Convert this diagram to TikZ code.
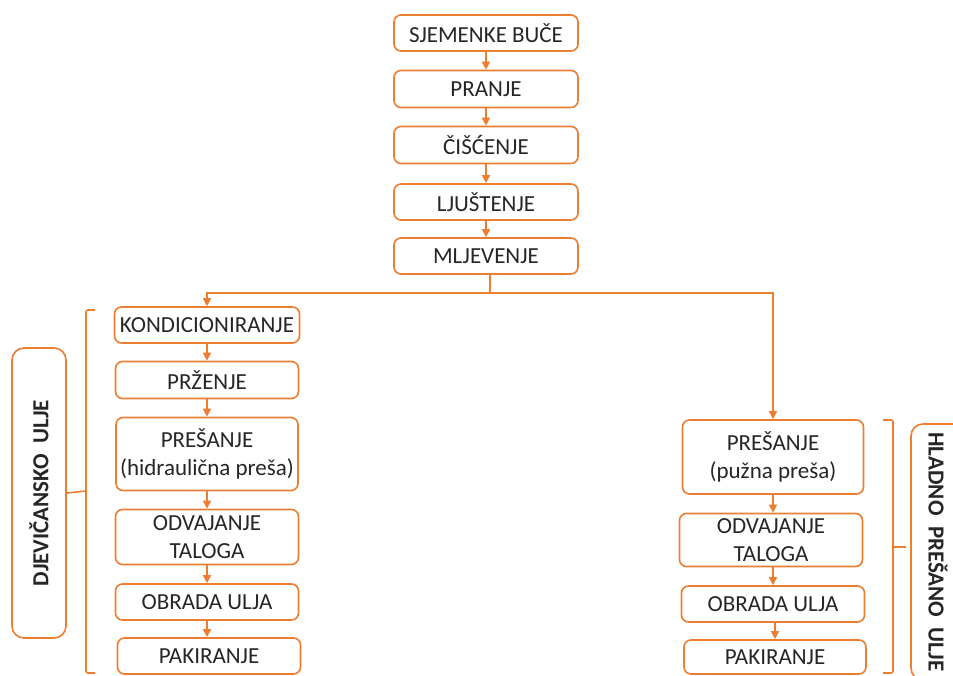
\documentclass[tikz,border=0pt]{standalone}
\usepackage{fontspec}
\setmainfont{Carlito}
\usetikzlibrary{arrows.meta}
\definecolor{narancasta}{HTML}{ED7D31}

\begin{document}
\begin{tikzpicture}[x=1pt,y=-1pt,
	korak/.style={draw=narancasta,line width=1.6pt,rounded corners=7pt,fill=white,align=center,text=black!85,font=\fontsize{23}{28}\selectfont,inner sep=0pt,minimum width=184pt,minimum height=36pt},
	oznaka/.style={draw=narancasta,line width=1.6pt,rounded corners=12pt,text=black!85,font=\fontsize{23}{28}\selectfont\bfseries,inner sep=0pt,minimum height=54pt},
	tok/.style={draw=narancasta,line width=1.6pt,-{Triangle[length=8pt,width=8pt]}},
	zagrada/.style={draw=narancasta,line width=1.6pt,rounded corners=2pt}]
	\useasboundingbox (0,0) rectangle (953,675);
	\clip (0,0) rectangle (953,675);
	% glavni niz
	\node[korak] (buce) at (486,33) {SJEMENKE BUČE};
	\node[korak,minimum height=37pt] (pranje) at (486,89) {PRANJE};
	\node[korak,minimum height=37pt] (ciscenje) at (486,145) {ČIŠĆENJE};
	\node[korak] (ljustenje) at (486,202) {LJUŠTENJE};
	\node[korak] (mljevenje) at (486,256) {MLJEVENJE};
	% djevicansko ulje
	\node[korak,minimum width=185pt] (kond) at (207,325) {KONDICIONIRANJE};
	\node[korak,minimum width=183pt,minimum height=37pt] (przenje) at (207,380) {PRŽENJE};
	\node[korak,minimum width=182pt,minimum height=73pt] (hpresa) at (207,454) {PREŠANJE\\(hidraulična preša)};
	\node[korak,minimum width=183pt,minimum height=55pt] (ltalog) at (207,537) {ODVAJANJE\\TALOGA};
	\node[korak,minimum width=183pt] (lobrada) at (207,602) {OBRADA ULJA};
	\node[korak,minimum width=183pt] (lpak) at (209,656) {PAKIRANJE};
	% hladno presano ulje
	\node[korak,minimum width=181pt,minimum height=74pt] (ppresa) at (773,457) {PREŠANJE\\(pužna preša)};
	\node[korak,minimum width=183pt,minimum height=53pt] (dtalog) at (771,540) {ODVAJANJE\\TALOGA};
	\node[korak,minimum width=183pt] (dobrada) at (773,604) {OBRADA ULJA};
	\node[korak,minimum width=182pt,minimum height=34pt] (dpak) at (775,657) {PAKIRANJE};
	% oznake
	\node[oznaka,rotate=90,minimum width=290pt] (djev) at (39,493) {DJEVIČANSKO\ \ ULJE};
	\node[oznaka,rotate=-90,minimum width=256pt] (hladno) at (938,552) {HLADNO\ \ PREŠANO\ \ ULJE};
	% strelice
	\draw[tok] (buce) -- (pranje);
	\draw[tok] (pranje) -- (ciscenje);
	\draw[tok] (ciscenje) -- (ljustenje);
	\draw[tok] (ljustenje) -- (mljevenje);
	\draw[draw=narancasta,line width=1.6pt] (mljevenje.south) ++(4,0) -- ++(0,18) coordinate (grana);
	\draw[tok] (grana) -| (kond.north -| przenje);
	\draw[tok] (grana) -| (ppresa.north);
	\draw[tok] (kond.south -| przenje) -- (przenje);
	\draw[tok] (przenje) -- (hpresa);
	\draw[tok] (hpresa) -- (ltalog);
	\draw[tok] (ltalog) -- (lobrada);
	\draw[tok] (lobrada.south) -- (lobrada.south |- lpak.north);
	\draw[tok] (ppresa) -- (ppresa.south |- dtalog.north);
	\draw[tok] (dtalog.south -| dobrada) -- (dobrada);
	\draw[tok] (dobrada.south -| dpak) -- (dpak);
	% zagrade
	\draw[zagrada] (95,310) -- (86,310) -- (86,673) -- (95,673);
	\draw[zagrada] (86,491) -- (djev.south);
	\draw[zagrada] (883,420) -- (893,420) -- (893,673) -- (883,673);
	\draw[zagrada] (893,547) -- (906,547);
\end{tikzpicture}
\end{document}
